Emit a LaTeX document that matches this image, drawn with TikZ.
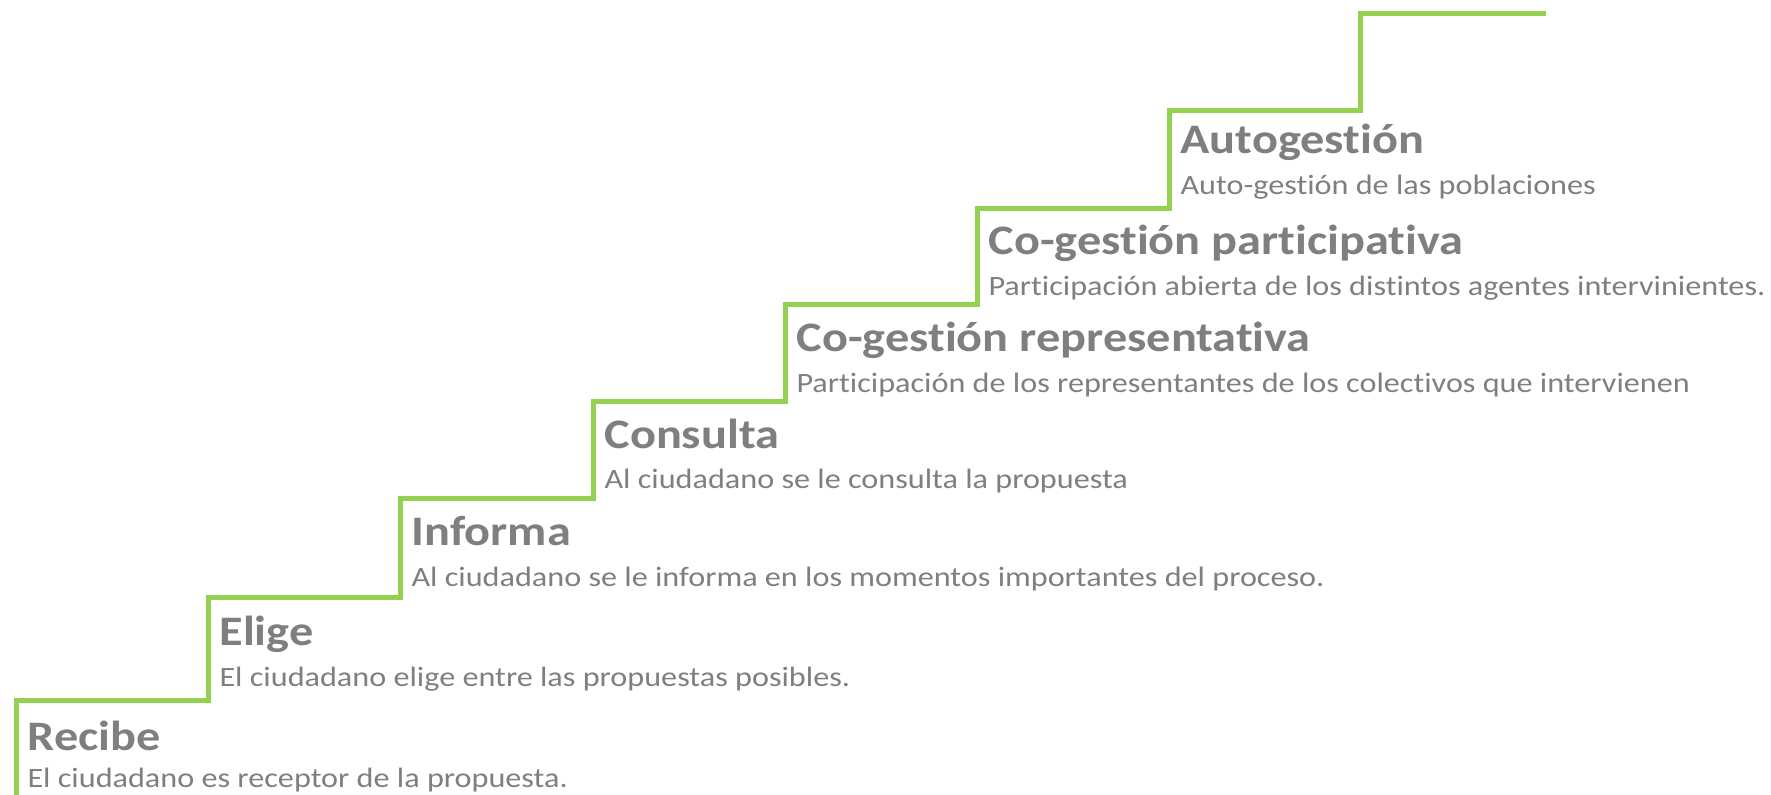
\documentclass[tikz,border=0pt]{standalone}
\usepackage{fontspec}
\setmainfont{Carlito}[Ligatures=NoCommon, FakeStretch=1.15]
\definecolor{stairgreen}{RGB}{146,208,80}
\definecolor{textgray}{RGB}{127,127,127}
\tikzset{
	stepname/.style={anchor=base west, inner sep=0pt, text=textgray, font=\fontsize{21}{25}\selectfont\bfseries},
	stepnote/.style={anchor=base west, inner sep=0pt, text=textgray, font=\fontsize{14}{17}\selectfont}
}
\begin{document}
\begin{tikzpicture}[x=0.5pt, y=-0.5pt, line width=2.5pt]
		\useasboundingbox (0,0) rectangle (1771,795);
		\draw[stairgreen] (16,795) -- (16,700) -- (208,700) -- (208,598) -- (400,598) -- (400,499)
			-- (593,499) -- (593,402) -- (785,402) -- (785,305) -- (977,305) -- (977,209)
			-- (1169,209) -- (1169,111) -- (1360,111) -- (1360,14) -- (1546,14);
		\node[stepname] (recibe) at (25, 750) {Recibe};
		\node[stepnote] (recibenote) at (25, 787) {El ciudadano es receptor de la propuesta.};
		\node[stepname] (elige) at (217, 646) {Elige};
		\node[stepnote] (eligenote) at (217, 686) {El ciudadano elige entre las propuestas posibles.};
		\node[stepname] (informa) at (409, 546) {Informa};
		\node[stepnote] (informanote) at (409, 587) {Al ciudadano se le informa en los momentos importantes del proceso.};
		\node[stepname] (consulta) at (602, 449) {Consulta};
		\node[stepnote] (consultanote) at (602, 489) {Al ciudadano se le consulta la propuesta};
		\node[stepname] (corep) at (794, 352) {Co-gestión representativa};
		\node[stepnote] (corepnote) at (794, 393) {Participación de los representantes de los colectivos que intervienen};
		\node[stepname] (copart) at (986, 255) {Co-gestión participativa};
		\node[stepnote] (copartnote) at (986, 296) {Participación abierta de los distintos agentes intervinientes.};
		\node[stepname] (auto) at (1178, 154) {Autogestión};
		\node[stepnote] (autonote) at (1178, 195) {Auto-gestión de las poblaciones};
	\end{tikzpicture}
\end{document}
